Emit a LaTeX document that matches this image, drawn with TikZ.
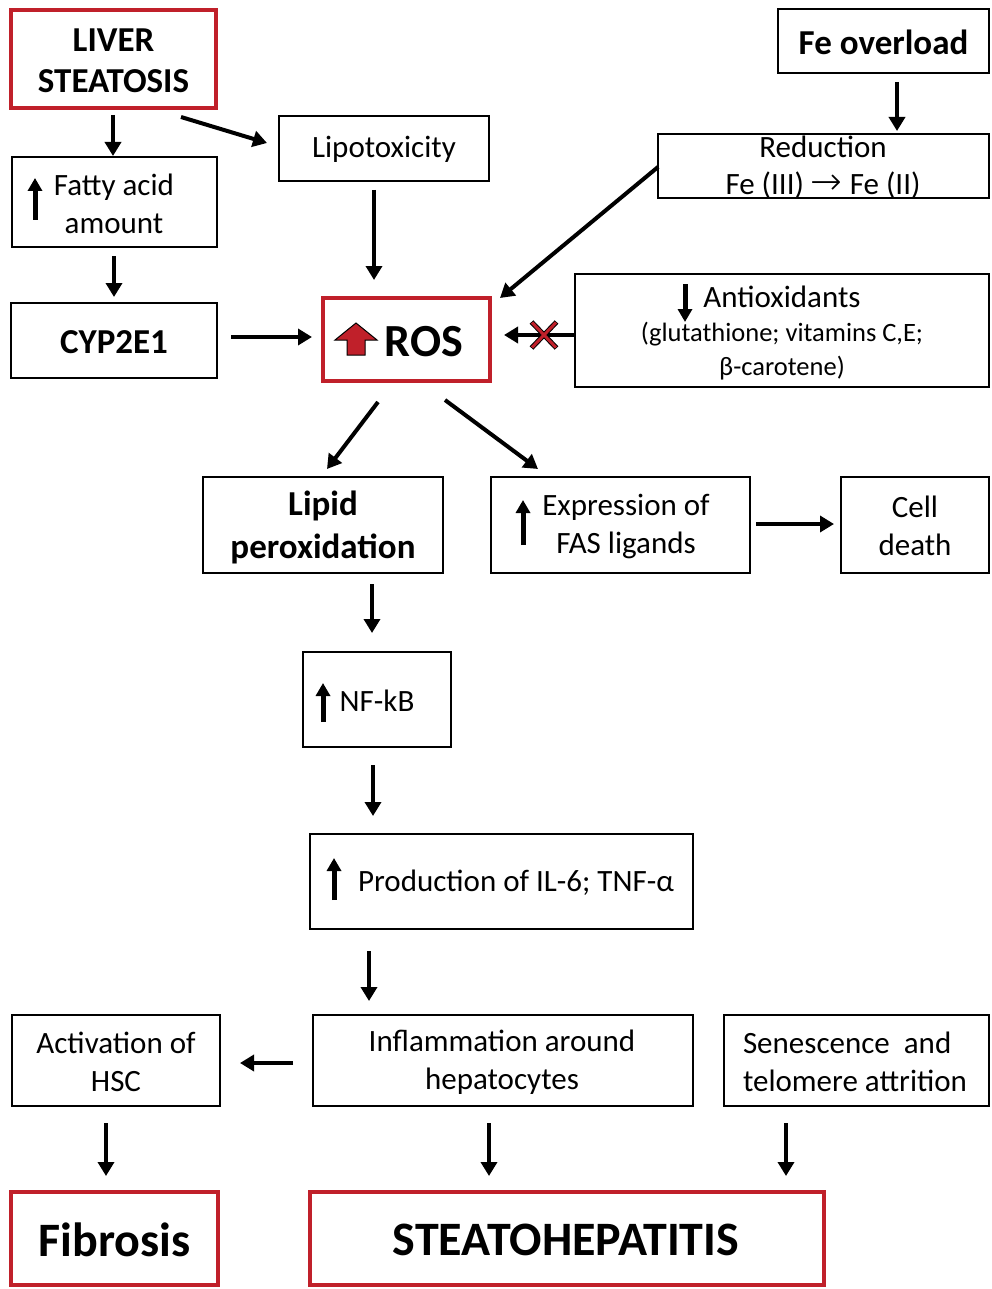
\documentclass[tikz,border=0pt]{standalone}
\usepackage{fontspec}
\setmainfont{Carlito}
\newfontfamily\arrowfont{DejaVu Sans ExtraLight}
\usetikzlibrary{arrows.meta,calc}
\definecolor{boxred}{RGB}{192,32,42}
\begin{document}
\begin{tikzpicture}[x=1pt,y=-1pt,
 box/.style={draw=black, line width=2pt, inner sep=0pt, outer sep=0pt},
 rbox/.style={draw=boxred, line width=4.5pt, inner sep=0pt, outer sep=0pt},
 txt/.style={inner sep=0pt, align=center, font=\fontsize{31}{38}\selectfont},
 btxt/.style={inner sep=0pt, align=center, font=\fontsize{35}{42}\selectfont\bfseries},
 htxt/.style={inner sep=0pt, align=center, font=\fontsize{48}{56}\selectfont\bfseries},
 arr/.style={line width=4pt, -{Triangle[length=14pt,width=16pt]}},
 glyph/.style={line width=5pt, -{Triangle[length=13pt,width=14pt]}}]
\useasboundingbox (0,0) rectangle (991,1289);

% boxes
\node[rbox, minimum width=205pt, minimum height=98pt] (ls) at (113.5,59) {};
\node[box, minimum width=211pt, minimum height=64pt] (fe) at (883.5,41) {};
\node[box, minimum width=210pt, minimum height=65pt] (lipo) at (384,148.5) {};
\node[box, minimum width=205pt, minimum height=90pt] (fatty) at (114.5,202) {};
\node[box, minimum width=331pt, minimum height=64pt] (red) at (823.5,166) {};
\node[box, minimum width=206pt, minimum height=75pt] (cyp) at (114,340.5) {};
\node[rbox, minimum width=167pt, minimum height=83pt] (ros) at (406.5,339.5) {};
\node[box, minimum width=414pt, minimum height=113pt] (anti) at (782,330.5) {};
\node[box, minimum width=240pt, minimum height=96pt] (lipid) at (323,525) {};
\node[box, minimum width=259pt, minimum height=96pt] (fas) at (620.5,525) {};
\node[box, minimum width=148pt, minimum height=96pt] (cell) at (915,525) {};
\node[box, minimum width=148pt, minimum height=95pt] (nf) at (377,699.5) {};
\node[box, minimum width=383pt, minimum height=95pt] (prod) at (501.5,881.5) {};
\node[box, minimum width=208pt, minimum height=91pt] (act) at (116,1060.5) {};
\node[box, minimum width=380pt, minimum height=91pt] (infl) at (503,1060.5) {};
\node[box, minimum width=265pt, minimum height=91pt] (sen) at (856.5,1060.5) {};
\node[rbox, minimum width=207pt, minimum height=93pt] (fib) at (114.5,1238.5) {};
\node[rbox, minimum width=514pt, minimum height=93pt] (steato) at (567,1238.5) {};

% texts
\node[btxt, font=\fontsize{35}{41}\selectfont\bfseries] (lsT) at (113.5,61) {LIVER\\STEATOSIS};
\node[btxt] (feT) at (883.5,42) {Fe overload};
\node[txt] (lipoT) at (384,149) {Lipotoxicity};
\node[txt] (fattyT) at (114,204) {Fatty acid\\amount};
\node[txt, font=\fontsize{31}{37}\selectfont] (redT) at (823,167) {Reduction\\Fe (III) {\arrowfont\fontsize{38}{37}\selectfont →} Fe (II)};
\node[btxt] (cypT) at (114,342) {CYP2E1};
\node[btxt, font=\fontsize{46}{52}\selectfont\bfseries] (rosT) at (424,342) {ROS};
\node[txt, font=\fontsize{31}{34}\selectfont] (antiT) at (782,333) {Antioxidants\\\fontsize{26.5}{33}\selectfont(glutathione; vitamins C,E;\\\fontsize{26.5}{33}\selectfont β-carotene)};
\node[btxt, font=\fontsize{35}{43}\selectfont\bfseries] (lipidT) at (323,527) {Lipid\\peroxidation};
\node[txt] (fasT) at (626,526) {Expression of\\FAS ligands};
\node[txt] (cellT) at (915,526) {Cell\\death};
\node[txt] (nfT) at (377,701) {NF-kB};
\node[txt] (prodT) at (516,883) {Production of IL-6; TNF-α};
\node[txt] (actT) at (116,1062) {Activation of\\HSC};
\node[txt] (inflT) at (502,1062) {Inflammation around\\hepatocytes};
\node[txt, align=left] (senT) at (855,1062) {Senescence\ \ and\\telomere attrition};
\node[htxt] (fibT) at (114.5,1240) {Fibrosis};
\node[htxt] (steatoT) at (566,1240) {STEATOHEPATITIS};

% connectors
\draw[arr] ($(ls.south)+(-0.5,7)$) -- ($(fatty.north)+(-1.5,-1)$);
\draw[arr] ($(ls.south east)+(-35,9)$) -- ($(lipo.west)+(-12,-5.5)$);
\draw[arr] ($(fatty.south)+(-0.5,9)$) -- ($(cyp.north)+(0,-6)$);
\draw[arr] ($(lipo.south)+(-10,9)$) -- ($(ros.north)+(-32.5,-18)$);
\draw[arr] ($(cyp.east)+(14,-3.5)$) -- ($(ros.west)+(-11,-2.5)$);
\draw[arr] ($(fe.south)+(13.5,9)$) -- ($(red.north)+(73.5,-3)$);
\draw[arr] ($(red.west)+(0,1)$) -- ($(ros.north east)+(10,0)$);
\draw[arr] ($(anti.west)+(0,4.5)$) -- ($(ros.east)+(14,-4.5)$);
\draw[arr] ($(ros.south)+(-28.5,21)$) -- ($(lipid.north)+(4,-8)$);
\draw[arr] ($(ros.south)+(38.5,19)$) -- ($(fas.north)+(-82.5,-8)$);
\draw[arr] ($(fas.east)+(6,-1)$) -- ($(cell.west)+(-7,-1)$);
\draw[arr] ($(lipid.south)+(49,11)$) -- ($(nf.north)+(-5,-19)$);
\draw[arr] ($(nf.south)+(-4,18)$) -- ($(prod.north)+(-128.5,-18)$);
\draw[arr] ($(prod.south)+(-132.5,22)$) -- ($(infl.north)+(-134,-14)$);
\draw[arr] ($(infl.west)+(-20,2.5)$) -- ($(act.east)+(20,2.5)$);
\draw[arr] ($(act.south)+(-10,17)$) -- ($(fib.north)+(-8.5,-16)$);
\draw[arr] ($(infl.south)+(-14,17)$) -- ($(steato.north)+(-78,-16)$);
\draw[arr] ($(sen.south)+(-70.5,17)$) -- ($(steato.north)+(219,-16)$);

% red X over the antioxidant arrow
\draw[black, line width=5pt] (531.5,322) -- (556.5,348) (556.5,322) -- (531.5,348);
\draw[boxred, line width=3pt] (532,322.5) -- (556,347.5) (556,322.5) -- (532,347.5);

% small arrow glyphs inside boxes
\draw[glyph] ($(fatty.west)+(23,18)$) -- ($(fatty.west)+(23,-24)$);
\draw[glyph] ($(fas.west)+(32,20)$) -- ($(fas.west)+(32,-25)$);
\draw[glyph] ($(nf.west)+(20,22.5)$) -- ($(nf.west)+(20,-16.5)$);
\draw[glyph] ($(prod.west)+(24,18.5)$) -- ($(prod.west)+(24,-23.5)$);
\draw[glyph] ($(anti.west)+(110,-46.5)$) -- ($(anti.west)+(110,-8.5)$);

% red block arrow in ROS box
\draw[fill=boxred, draw=black, line width=1pt, line join=miter]
  (356,323) -- (377,340) -- (365,340) -- (365,355) -- (347,355) -- (347,340) -- (335,340) -- cycle;
\end{tikzpicture}
\end{document}
